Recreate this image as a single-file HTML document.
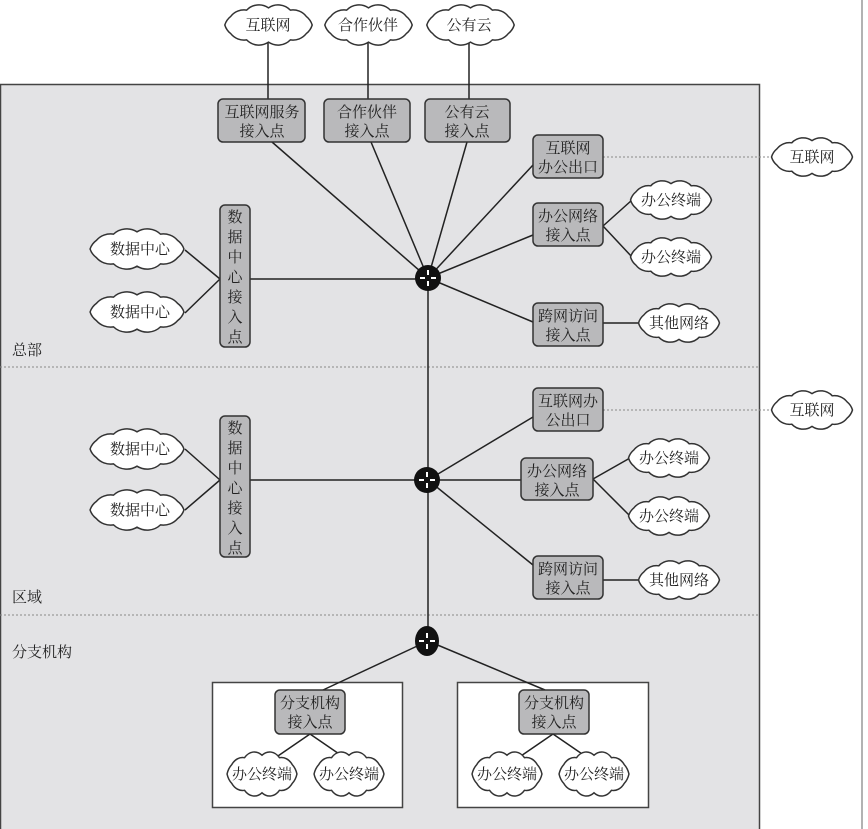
<!DOCTYPE html>
<html><head><meta charset="utf-8"><style>
html,body{margin:0;padding:0;background:#fff;}
svg{display:block;}
text{font-family:"Liberation Serif","Noto Serif CJK SC","Noto Sans CJK SC",serif;font-size:15px;fill:#222;text-anchor:middle;}
.b{fill:#b9b9bb;stroke:#333;stroke-width:1.5;}
.l{stroke:#222;stroke-width:1.5;fill:none;}
.d{stroke:#888;stroke-width:1;stroke-dasharray:2 2;fill:none;}
.lab{text-anchor:start;font-size:15px;}
</style></head><body>
<svg width="868" height="829" viewBox="0 0 868 829" xmlns="http://www.w3.org/2000/svg">
<defs>
<symbol id="c" viewBox="0 0 100 44" preserveAspectRatio="none">
<path vector-effect="non-scaling-stroke" fill="#fff" stroke="#333" stroke-width="1.5" d="M96 22 A18 18 0 0 1 89.8 31 A18 18 0 0 1 73 37.6 A18 18 0 0 1 50 40 A18 18 0 0 1 27 37.6 A18 18 0 0 1 10.2 31 A18 18 0 0 1 4 22 A18 18 0 0 1 10.2 13 A18 18 0 0 1 27 6.4 A18 18 0 0 1 50 4 A18 18 0 0 1 73 6.4 A18 18 0 0 1 89.8 13 A18 18 0 0 1 96 22 Z"/>
</symbol>
<g id="r"><circle r="13" fill="#111"/><path d="M-8 0H-3M3 0H8M0 -8V-3M0 3V8" stroke="#fff" stroke-width="2"/></g>
</defs>
<rect x="0.5" y="84.5" width="759" height="750" fill="#e3e3e5" stroke="#444" stroke-width="1.5"/>
<line x1="862" y1="0" x2="862" y2="829" stroke="#999" stroke-width="1.5"/>
<line class="d" x1="0" y1="367" x2="759" y2="367"/>
<line class="d" x1="0" y1="615" x2="759" y2="615"/>

<line class="l" x1="268" y1="40" x2="268" y2="100"/>
<line class="l" x1="368" y1="40" x2="368" y2="100"/>
<line class="l" x1="469" y1="40" x2="469" y2="100"/>
<use href="#c" x="221" y="4" width="95" height="42"/>
<use href="#c" x="321" y="4" width="95" height="42"/>
<use href="#c" x="423" y="4" width="95" height="42"/>
<text x="268" y="30">互联网</text><text x="368" y="30">合作伙伴</text><text x="469" y="30">公有云</text>

<g class="l">
<line x1="272" y1="142" x2="428" y2="278"/>
<line x1="371" y1="142" x2="428" y2="278"/>
<line x1="467" y1="142" x2="428" y2="278"/>
<line x1="533" y1="165" x2="428" y2="278"/>
<line x1="533" y1="235" x2="428" y2="278"/>
<line x1="533" y1="322" x2="428" y2="278"/>
<line x1="250" y1="279" x2="428" y2="279"/>
<line x1="428" y1="278" x2="428" y2="641"/>
<line x1="220" y1="279" x2="185" y2="250"/>
<line x1="220" y1="279" x2="185" y2="313"/>
<line x1="603" y1="226" x2="632" y2="200"/>
<line x1="603" y1="226" x2="632" y2="257"/>
<line x1="603" y1="323" x2="638" y2="323"/>
<line x1="250" y1="480" x2="428" y2="480"/>
<line x1="220" y1="480" x2="185" y2="449"/>
<line x1="220" y1="480" x2="185" y2="510"/>
<line x1="533" y1="417" x2="428" y2="480"/>
<line x1="521" y1="480" x2="428" y2="480"/>
<line x1="533" y1="565" x2="428" y2="480"/>
<line x1="593" y1="479" x2="630" y2="458"/>
<line x1="593" y1="479" x2="630" y2="516"/>
<line x1="603" y1="580" x2="638" y2="580"/>
</g>
<line class="d" x1="603" y1="157" x2="772" y2="157"/>
<line class="d" x1="603" y1="410" x2="772" y2="410"/>

<rect class="b" x="218" y="99" width="87" height="43" rx="5"/>
<text x="262" y="117">互联网服务</text><text x="262" y="136">接入点</text>
<rect class="b" x="324" y="99" width="86" height="43" rx="5"/>
<text x="367" y="117">合作伙伴</text><text x="367" y="136">接入点</text>
<rect class="b" x="425" y="99" width="85" height="43" rx="5"/>
<text x="467" y="117">公有云</text><text x="467" y="136">接入点</text>
<rect class="b" x="533" y="135" width="70" height="43" rx="5"/>
<text x="568" y="153">互联网</text><text x="568" y="172">办公出口</text>
<rect class="b" x="533" y="203" width="70" height="43" rx="5"/>
<text x="568" y="221">办公网络</text><text x="568" y="240">接入点</text>
<rect class="b" x="533" y="303" width="70" height="43" rx="5"/>
<text x="568" y="321">跨网访问</text><text x="568" y="340">接入点</text>
<rect class="b" x="220" y="205" width="30" height="142" rx="5"/>
<text x="235" y="222">数</text><text x="235" y="242">据</text><text x="235" y="262">中</text><text x="235" y="282">心</text><text x="235" y="302">接</text><text x="235" y="322">入</text><text x="235" y="342">点</text>
<use href="#c" x="86" y="228" width="102" height="42"/><text x="140" y="254">数据中心</text>
<use href="#c" x="86" y="291" width="102" height="42"/><text x="140" y="317">数据中心</text>
<use href="#c" x="627" y="180" width="88" height="40"/><text x="671" y="205">办公终端</text>
<use href="#c" x="627" y="237" width="88" height="40"/><text x="671" y="262">办公终端</text>
<use href="#c" x="635" y="303" width="88" height="40"/><text x="679" y="328">其他网络</text>
<use href="#c" x="768" y="137" width="88" height="40"/><text x="812" y="162">互联网</text>
<use href="#r" x="428" y="278"/>
<text class="lab" x="12" y="355">总部</text>

<rect class="b" x="533" y="388" width="70" height="43" rx="5"/>
<text x="568" y="406">互联网办</text><text x="568" y="425">公出口</text>
<rect class="b" x="521" y="458" width="72" height="42" rx="5"/>
<text x="557" y="476">办公网络</text><text x="557" y="495">接入点</text>
<rect class="b" x="533" y="556" width="70" height="43" rx="5"/>
<text x="568" y="574">跨网访问</text><text x="568" y="593">接入点</text>
<rect class="b" x="220" y="416" width="30" height="141" rx="5"/>
<text x="235" y="433">数</text><text x="235" y="453">据</text><text x="235" y="473">中</text><text x="235" y="493">心</text><text x="235" y="513">接</text><text x="235" y="533">入</text><text x="235" y="553">点</text>
<use href="#c" x="86" y="428" width="102" height="42"/><text x="140" y="454">数据中心</text>
<use href="#c" x="86" y="489" width="102" height="42"/><text x="140" y="515">数据中心</text>
<use href="#c" x="625" y="438" width="88" height="40"/><text x="669" y="463">办公终端</text>
<use href="#c" x="625" y="496" width="88" height="40"/><text x="669" y="521">办公终端</text>
<use href="#c" x="635" y="560" width="88" height="40"/><text x="679" y="585">其他网络</text>
<use href="#c" x="768" y="390" width="88" height="40"/><text x="812" y="415">互联网</text>
<use href="#r" x="427" y="480"/>
<text class="lab" x="12" y="602">区域</text>

<text class="lab" x="12" y="657">分支机构</text>
<rect x="212.5" y="682.5" width="190" height="125" fill="#fff" stroke="#444" stroke-width="1.5"/>
<rect x="457.5" y="682.5" width="191" height="125" fill="#fff" stroke="#444" stroke-width="1.5"/>
<g class="l">
<line x1="428" y1="641" x2="323" y2="690"/>
<line x1="428" y1="641" x2="545" y2="690"/>
<line x1="310" y1="734" x2="275" y2="758"/>
<line x1="310" y1="734" x2="345" y2="758"/>
<line x1="553" y1="734" x2="518" y2="758"/>
<line x1="553" y1="734" x2="588" y2="758"/>
</g>
<rect class="b" x="275" y="690" width="70" height="44" rx="5"/>
<text x="310" y="708">分支机构</text><text x="310" y="727">接入点</text>
<rect class="b" x="519" y="690" width="70" height="44" rx="5"/>
<text x="554" y="708">分支机构</text><text x="554" y="727">接入点</text>
<use href="#c" x="224" y="751" width="76" height="46"/><text x="262" y="779">办公终端</text>
<use href="#c" x="311" y="751" width="76" height="46"/><text x="349" y="779">办公终端</text>
<use href="#c" x="469" y="751" width="76" height="46"/><text x="507" y="779">办公终端</text>
<use href="#c" x="556" y="751" width="76" height="46"/><text x="594" y="779">办公终端</text>
<ellipse cx="427" cy="641" rx="12" ry="15" fill="#111"/>
<path d="M419 641H424M430 641H435M427 633V638M427 644V649" stroke="#fff" stroke-width="2"/>
</svg>
</body></html>
